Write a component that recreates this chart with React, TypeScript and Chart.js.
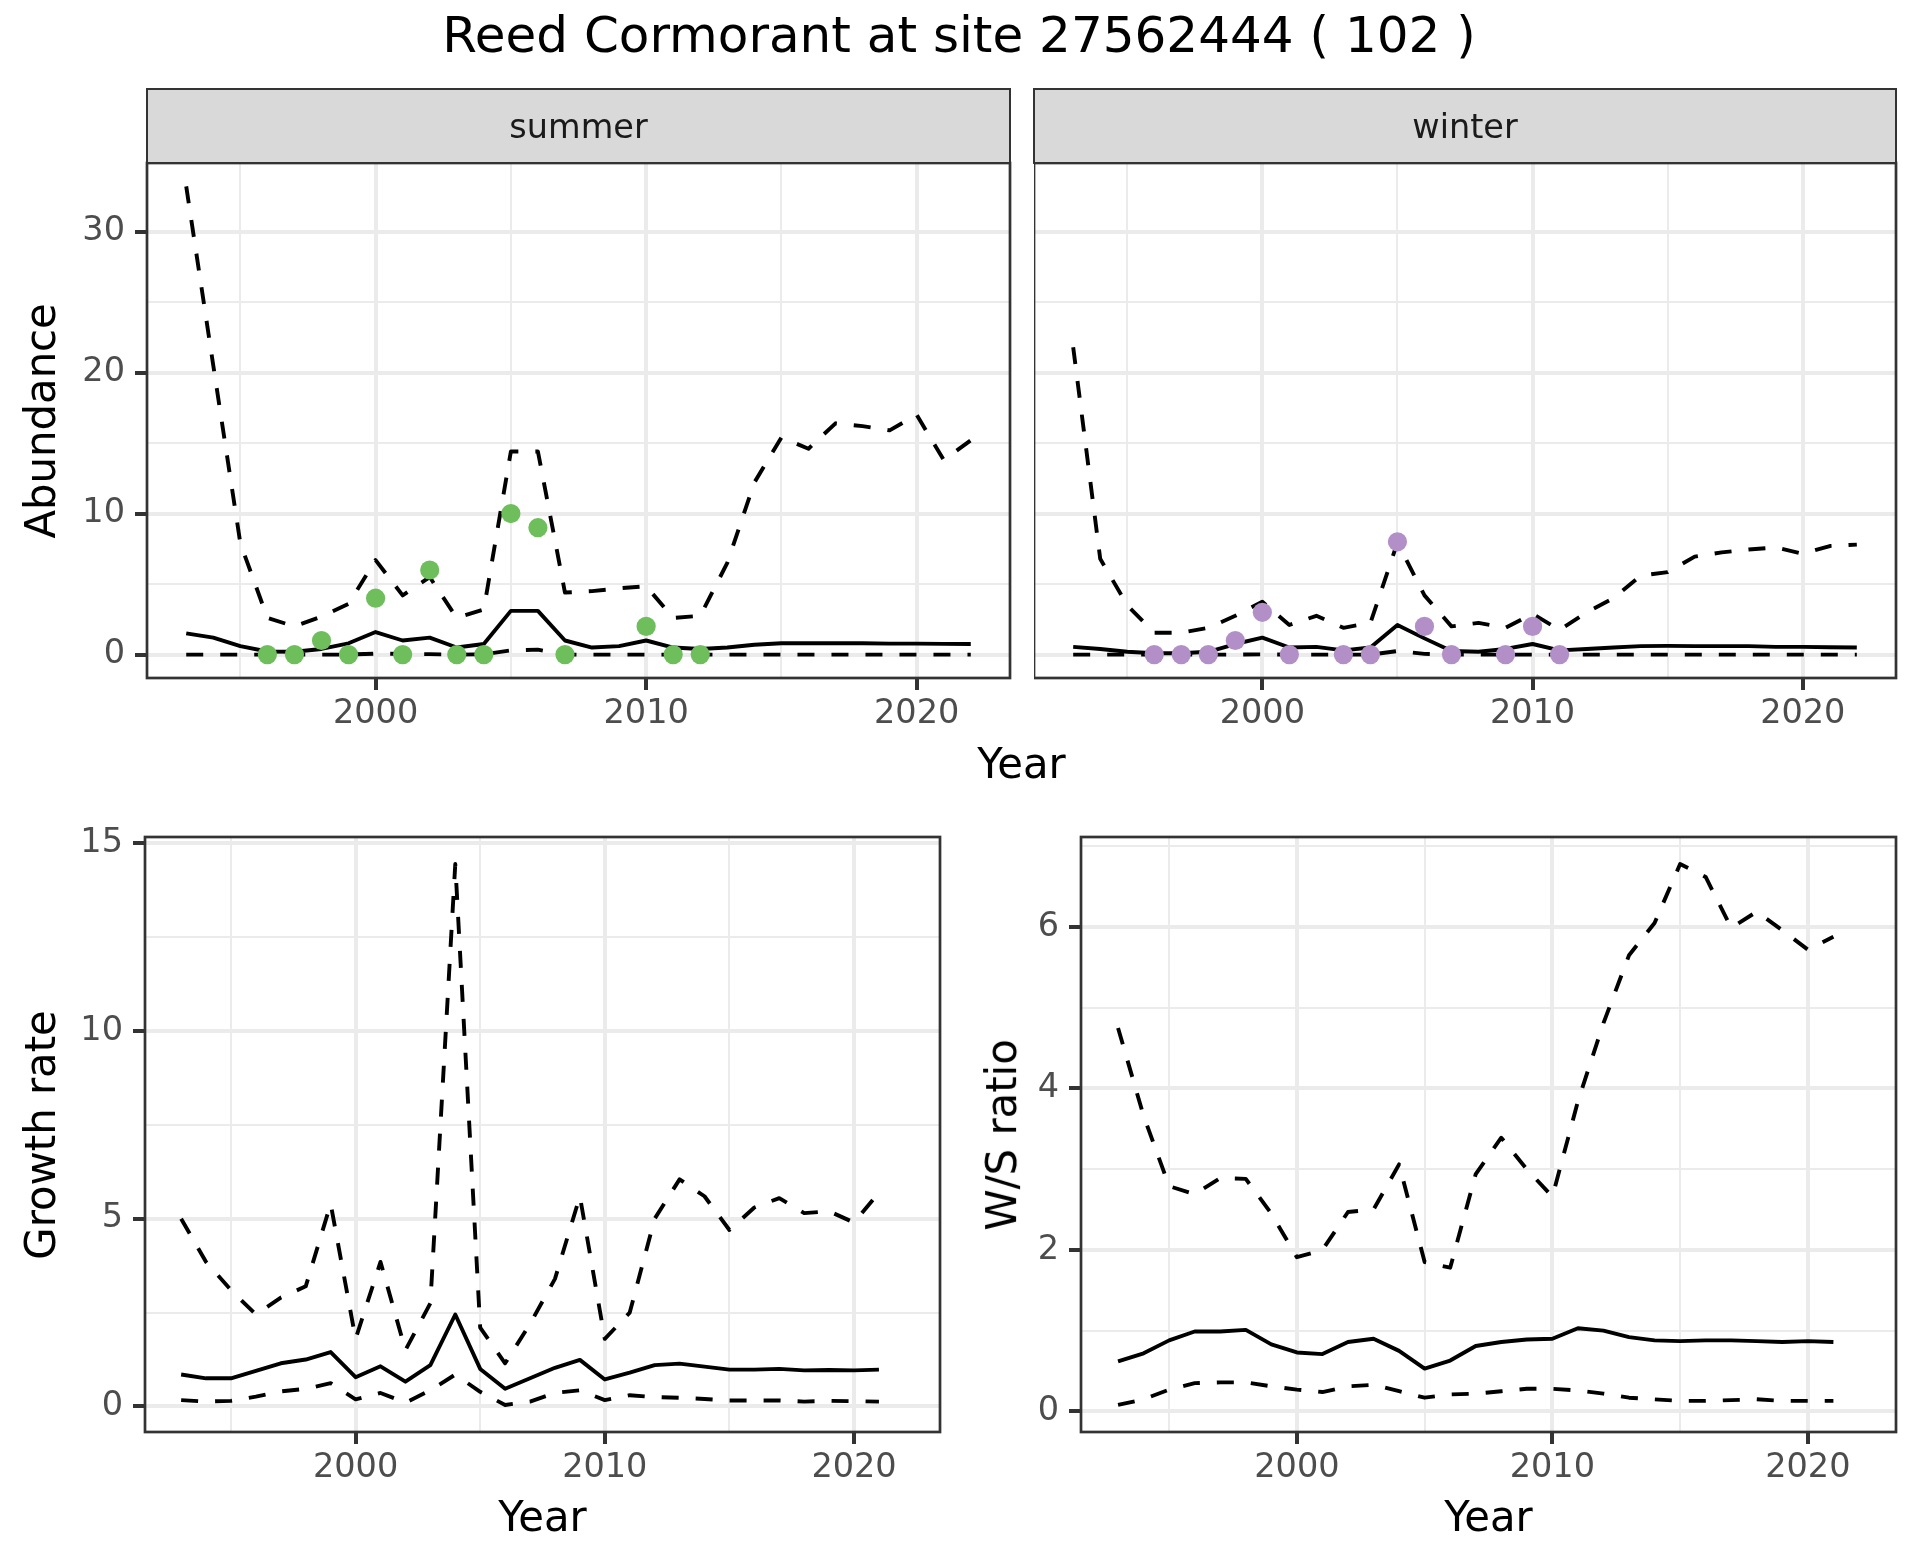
import React, { useEffect, useRef } from 'react';
import { Chart, registerables } from 'chart.js';

Chart.register(...registerables);

// ---------------- data ----------------
const YEARS = [1993, 1994, 1995, 1996, 1997, 1998, 1999, 2000, 2001, 2002, 2003, 2004, 2005, 2006, 2007, 2008, 2009, 2010, 2011, 2012, 2013, 2014, 2015, 2016, 2017, 2018, 2019, 2020, 2021, 2022];
const RATE_YEARS = [1993, 1994, 1995, 1996, 1997, 1998, 1999, 2000, 2001, 2002, 2003, 2004, 2005, 2006, 2007, 2008, 2009, 2010, 2011, 2012, 2013, 2014, 2015, 2016, 2017, 2018, 2019, 2020, 2021];
const X_TICKS = [1995, 2000, 2005, 2010, 2015, 2020];
const X_LABELS = [2000, 2010, 2020];

const SUMMER_UPPER = [33.2, 20.5, 7.9, 2.6, 2.0, 2.7, 3.6, 6.7, 4.2, 5.5, 2.6, 3.2, 14.4, 14.4, 4.4, 4.5, 4.7, 4.85, 2.6, 2.75, 6.5, 12.2, 15.4, 14.6, 16.4, 16.2, 15.9, 17.0, 13.8, 15.2];
const SUMMER_MEAN = [1.5, 1.2, 0.6, 0.22, 0.2, 0.4, 0.8, 1.6, 1.0, 1.2, 0.5, 0.75, 3.1, 3.1, 1.0, 0.5, 0.6, 1.0, 0.5, 0.4, 0.5, 0.7, 0.8, 0.8, 0.8, 0.8, 0.78, 0.78, 0.76, 0.75];
const SUMMER_LOWER = [0, 0, 0, 0, 0, 0, 0, 0.07, 0.05, 0.03, 0, 0.02, 0.3, 0.35, 0, 0, 0, 0, 0, 0, 0, 0, 0, 0, 0, 0, 0, 0, 0, 0];
const SUMMER_OBS_YEARS = [1996, 1997, 1998, 1999, 2000, 2001, 2002, 2003, 2004, 2005, 2006, 2007, 2010, 2011, 2012];
const SUMMER_OBS = [0, 0, 1, 0, 4, 0, 6, 0, 0, 10, 9, 0, 2, 0, 0];

const WINTER_UPPER = [21.8, 6.8, 3.5, 1.55, 1.55, 1.9, 2.75, 3.75, 2.1, 2.75, 1.9, 2.25, 7.95, 4.2, 2.0, 2.25, 1.9, 2.9, 1.75, 3.0, 4.0, 5.6, 5.85, 6.95, 7.25, 7.45, 7.6, 7.15, 7.7, 7.8];
const WINTER_MEAN = [0.55, 0.4, 0.2, 0.1, 0.1, 0.2, 0.75, 1.2, 0.5, 0.55, 0.3, 0.5, 2.1, 1.15, 0.25, 0.2, 0.4, 0.75, 0.3, 0.4, 0.5, 0.6, 0.62, 0.6, 0.6, 0.6, 0.55, 0.55, 0.52, 0.5];
const WINTER_LOWER = [0, 0, 0, 0, 0, 0, 0, 0.02, 0, 0, 0, 0, 0.25, 0.05, 0, 0, 0, 0, 0, 0, 0, 0, 0, 0, 0, 0, 0, 0, 0, 0];
const WINTER_OBS_YEARS = [1996, 1997, 1998, 1999, 2000, 2001, 2003, 2004, 2005, 2006, 2007, 2009, 2010, 2011];
const WINTER_OBS = [0, 0, 0, 1, 3, 0, 0, 0, 8, 2, 0, 0, 2, 0];

const GROWTH_UPPER = [5.0, 3.85, 3.1, 2.45, 2.9, 3.2, 5.4, 1.8, 3.85, 1.5, 2.75, 14.45, 2.1, 1.15, 2.2, 3.4, 5.6, 1.8, 2.5, 5.0, 6.05, 5.6, 4.7, 5.3, 5.55, 5.15, 5.2, 4.9, 5.7];
const GROWTH_MEAN = [0.85, 0.75, 0.75, 0.95, 1.15, 1.25, 1.45, 0.78, 1.07, 0.66, 1.1, 2.45, 1.0, 0.47, 0.75, 1.03, 1.24, 0.72, 0.9, 1.1, 1.14, 1.06, 0.98, 0.98, 1.0, 0.96, 0.97, 0.96, 0.98];
const GROWTH_LOWER = [0.17, 0.13, 0.15, 0.26, 0.4, 0.47, 0.62, 0.19, 0.36, 0.1, 0.43, 0.85, 0.39, 0.04, 0.13, 0.36, 0.43, 0.17, 0.3, 0.25, 0.23, 0.2, 0.16, 0.16, 0.16, 0.13, 0.15, 0.14, 0.13];

const RATIO_UPPER = [4.75, 3.66, 2.79, 2.69, 2.89, 2.88, 2.45, 1.91, 2.0, 2.47, 2.5, 3.06, 1.85, 1.78, 2.94, 3.39, 3.0, 2.66, 3.84, 4.81, 5.65, 6.05, 6.78, 6.62, 5.99, 6.19, 5.96, 5.72, 5.88];
const RATIO_MEAN = [0.62, 0.72, 0.88, 0.99, 0.99, 1.01, 0.83, 0.73, 0.71, 0.86, 0.9, 0.75, 0.53, 0.63, 0.81, 0.86, 0.89, 0.9, 1.03, 1.0, 0.92, 0.88, 0.87, 0.88, 0.88, 0.87, 0.86, 0.87, 0.86];
const RATIO_LOWER = [0.08, 0.15, 0.27, 0.35, 0.36, 0.36, 0.31, 0.27, 0.24, 0.31, 0.33, 0.25, 0.17, 0.21, 0.22, 0.25, 0.28, 0.28, 0.26, 0.22, 0.17, 0.15, 0.13, 0.13, 0.14, 0.15, 0.13, 0.13, 0.13];

const ABUND_TICKS = [0, 5, 10, 15, 20, 25, 30];
const ABUND_LABELS = [0, 10, 20, 30];
const GROWTH_TICKS = [0, 2.5, 5, 7.5, 10, 12.5, 15];
const GROWTH_LABELS = [0, 5, 10, 15];
const RATIO_TICKS = [0, 1, 2, 3, 4, 5, 6, 7];
const RATIO_LABELS = [0, 2, 4, 6];

// ---------------- styling ----------------
const FONT = "'DejaVu Sans', 'Liberation Sans', sans-serif";
const TICK_SIZE = 33.5;
const AXIS_TITLE_SIZE = 41.8;
const SUMMER_COLOR = '#6EBE5C';
const WINTER_COLOR = '#B38FC8';
const PAD_TOP = 40;
const PAD_RIGHT = 20;
const X_AXIS_H = 70;

function expandRange(arrs: number[][]): [number, number] {
  let lo = Infinity;
  let hi = -Infinity;
  for (const a of arrs) for (const v of a) { lo = Math.min(lo, v); hi = Math.max(hi, v); }
  const pad = (hi - lo) * 0.05;
  return [lo - pad, hi + pad];
}

const [X_MIN, X_MAX] = expandRange([YEARS]);

type LineSpec = { xs: number[]; ys: number[]; dashed: boolean };
type PointSpec = { xs: number[]; ys: number[]; color: string };

type PanelProps = {
  areaLeft: number;
  areaTop: number;
  areaRight: number;
  areaBottom: number;
  yAxisW: number;
  yRange: [number, number];
  yTicks: number[];
  yLabels: number[];
  showY: boolean;
  lines: LineSpec[];
  points?: PointSpec;
};

const panelBorder = {
  id: 'panelBorder',
  afterDraw(chart: any) {
    const { ctx, chartArea: a } = chart;
    ctx.save();
    ctx.strokeStyle = '#333333';
    ctx.lineWidth = 2.7;
    ctx.strokeRect(a.left, a.top, a.right - a.left, a.bottom - a.top);
    ctx.restore();
  },
};

function zeroPadding(s: any) {
  s.paddingLeft = 0;
  s.paddingRight = 0;
  s.paddingTop = 0;
  s.paddingBottom = 0;
}

function Panel(p: PanelProps) {
  const ref = useRef<HTMLCanvasElement>(null);
  const left = p.areaLeft - p.yAxisW;
  const top = p.areaTop - PAD_TOP;
  const width = p.areaRight - left + PAD_RIGHT;
  const height = p.areaBottom - top + X_AXIS_H;

  useEffect(() => {
    const datasets: any[] = [];
    if (p.points) {
      const pts = p.points;
      datasets.push({
        data: pts.xs.map((x, i) => ({ x, y: pts.ys[i] })),
        showLine: false,
        pointRadius: 9.6,
        pointBackgroundColor: pts.color,
        pointBorderColor: pts.color,
        pointBorderWidth: 0,
        borderColor: 'rgba(0,0,0,0)',
        borderWidth: 0,
        order: 0,
      });
    }
    p.lines.forEach((l) => {
      datasets.push({
        data: l.xs.map((x, i) => ({ x, y: l.ys[i] })),
        borderColor: '#000000',
        borderWidth: 3.9,
        borderDash: l.dashed ? [17, 17] : [],
        borderCapStyle: 'butt',
        borderJoinStyle: 'round',
        pointRadius: 0,
        tension: 0,
        fill: false,
        order: 1,
      });
    });

    const isMajorX = (v: number) => X_LABELS.includes(v);
    const isMajorY = (v: number) => p.yLabels.includes(v);

    const chart = new Chart(ref.current as HTMLCanvasElement, {
      type: 'line',
      data: { datasets },
      options: {
        animation: false,
        responsive: true,
        maintainAspectRatio: false,
        events: [],
        layout: { autoPadding: false, padding: { top: PAD_TOP, right: PAD_RIGHT, left: 0, bottom: 0 } },
        plugins: {
          legend: { display: false },
          tooltip: { enabled: false },
          title: { display: false },
        },
        scales: {
          x: {
            type: 'linear',
            bounds: 'data',
            min: X_MIN,
            max: X_MAX,
            afterBuildTicks: (s: any) => { s.ticks = X_TICKS.map((v) => ({ value: v })); },
            afterFit: (s: any) => { s.height = X_AXIS_H; zeroPadding(s); },
            ticks: {
              autoSkip: false,
              maxRotation: 0,
              minRotation: 0,
              padding: 4,
              color: '#4D4D4D',
              font: { family: FONT, size: TICK_SIZE },
              callback: (v: any) => (isMajorX(Number(v)) ? String(v) : ''),
            },
            grid: {
              color: '#EBEBEB',
              lineWidth: (c: any) => (c.tick && isMajorX(c.tick.value) ? 4 : 2),
              drawTicks: true,
              tickLength: 12,
              tickWidth: 4,
              tickColor: (c: any) => (c.tick && isMajorX(c.tick.value) ? '#333333' : 'rgba(0,0,0,0)'),
            },
            border: { display: false },
          },
          y: {
            type: 'linear',
            bounds: 'data',
            min: p.yRange[0],
            max: p.yRange[1],
            afterBuildTicks: (s: any) => { s.ticks = p.yTicks.map((v) => ({ value: v })); },
            afterFit: (s: any) => { s.width = p.yAxisW; zeroPadding(s); },
            ticks: {
              display: p.showY,
              autoSkip: false,
              padding: 10,
              color: '#4D4D4D',
              font: { family: FONT, size: TICK_SIZE },
              callback: (v: any) => (isMajorY(Number(v)) ? String(v) : ''),
            },
            grid: {
              color: '#EBEBEB',
              lineWidth: (c: any) => (c.tick && isMajorY(c.tick.value) ? 4 : 2),
              drawTicks: p.showY,
              tickLength: 12,
              tickWidth: 4,
              tickColor: (c: any) => (c.tick && isMajorY(c.tick.value) ? '#333333' : 'rgba(0,0,0,0)'),
            },
            border: { display: false },
          },
        },
      } as any,
      plugins: [panelBorder],
    });
    return () => chart.destroy();
  }, []);

  return (
    <div style={{ position: 'absolute', left, top, width, height }}>
      <canvas ref={ref} />
    </div>
  );
}

function HLabel(props: { text: string; cx: number; baseline: number; size: number; color?: string }) {
  const { text, cx, baseline, size, color } = props;
  return (
    <div
      style={{
        position: 'absolute',
        left: cx - 800,
        width: 1600,
        top: baseline - 0.846 * size,
        fontSize: size,
        lineHeight: `${size}px`,
        fontFamily: FONT,
        textAlign: 'center',
        color: color || '#000000',
        whiteSpace: 'nowrap',
      }}
    >
      {text}
    </div>
  );
}

function VLabel(props: { text: string; baselineX: number; cy: number; size: number }) {
  const { text, baselineX, cy, size } = props;
  const cx = baselineX - 0.346 * size;
  return (
    <div
      style={{
        position: 'absolute',
        left: cx - 400,
        top: cy - size / 2,
        width: 800,
        height: size,
        fontSize: size,
        lineHeight: `${size}px`,
        fontFamily: FONT,
        textAlign: 'center',
        color: '#000000',
        whiteSpace: 'nowrap',
        transform: 'rotate(-90deg)',
        transformOrigin: '50% 50%',
      }}
    >
      {text}
    </div>
  );
}

function Strip(props: { left: number; right: number; top: number; bottom: number }) {
  const { left, right, top, bottom } = props;
  return (
    <div
      style={{
        position: 'absolute',
        left: left - 1.35,
        top: top - 1.35,
        width: right - left + 2.7,
        height: bottom - top + 2.7,
        boxSizing: 'border-box',
        border: '2.7px solid #333333',
        background: '#D9D9D9',
      }}
    />
  );
}

// ---------------- layout ----------------
const TOP_Y0 = 163;
const TOP_Y1 = 678;
const STRIP_TOP = 89;
const SUMMER_X = [147, 1010];
const WINTER_X = [1034, 1896];
const BOT_Y0 = 837;
const BOT_Y1 = 1432;
const BL_X = [145, 940];
const BR_X = [1081, 1896];

export default function App() {
  const topRange = expandRange([SUMMER_UPPER, SUMMER_MEAN, SUMMER_LOWER, SUMMER_OBS, WINTER_UPPER, WINTER_MEAN, WINTER_LOWER, WINTER_OBS]);
  const growthRange = expandRange([GROWTH_UPPER, GROWTH_MEAN, GROWTH_LOWER]);
  const ratioRange = expandRange([RATIO_UPPER, RATIO_MEAN, RATIO_LOWER]);

  return (
    <div style={{ position: 'absolute', left: 0, top: 0, width: 1920, height: 1560, background: '#FFFFFF', overflow: 'hidden' }}>
      <Panel
        areaLeft={SUMMER_X[0]} areaRight={SUMMER_X[1]} areaTop={TOP_Y0} areaBottom={TOP_Y1}
        yAxisW={SUMMER_X[0]} yRange={topRange} yTicks={ABUND_TICKS} yLabels={ABUND_LABELS} showY={true}
        lines={[
          { xs: YEARS, ys: SUMMER_UPPER, dashed: true },
          { xs: YEARS, ys: SUMMER_LOWER, dashed: true },
          { xs: YEARS, ys: SUMMER_MEAN, dashed: false },
        ]}
        points={{ xs: SUMMER_OBS_YEARS, ys: SUMMER_OBS, color: SUMMER_COLOR }}
      />
      <Panel
        areaLeft={WINTER_X[0]} areaRight={WINTER_X[1]} areaTop={TOP_Y0} areaBottom={TOP_Y1}
        yAxisW={0} yRange={topRange} yTicks={ABUND_TICKS} yLabels={ABUND_LABELS} showY={false}
        lines={[
          { xs: YEARS, ys: WINTER_UPPER, dashed: true },
          { xs: YEARS, ys: WINTER_LOWER, dashed: true },
          { xs: YEARS, ys: WINTER_MEAN, dashed: false },
        ]}
        points={{ xs: WINTER_OBS_YEARS, ys: WINTER_OBS, color: WINTER_COLOR }}
      />
      <Panel
        areaLeft={BL_X[0]} areaRight={BL_X[1]} areaTop={BOT_Y0} areaBottom={BOT_Y1}
        yAxisW={BL_X[0]} yRange={growthRange} yTicks={GROWTH_TICKS} yLabels={GROWTH_LABELS} showY={true}
        lines={[
          { xs: RATE_YEARS, ys: GROWTH_UPPER, dashed: true },
          { xs: RATE_YEARS, ys: GROWTH_LOWER, dashed: true },
          { xs: RATE_YEARS, ys: GROWTH_MEAN, dashed: false },
        ]}
      />
      <Panel
        areaLeft={BR_X[0]} areaRight={BR_X[1]} areaTop={BOT_Y0} areaBottom={BOT_Y1}
        yAxisW={120} yRange={ratioRange} yTicks={RATIO_TICKS} yLabels={RATIO_LABELS} showY={true}
        lines={[
          { xs: RATE_YEARS, ys: RATIO_UPPER, dashed: true },
          { xs: RATE_YEARS, ys: RATIO_LOWER, dashed: true },
          { xs: RATE_YEARS, ys: RATIO_MEAN, dashed: false },
        ]}
      />

      <Strip left={SUMMER_X[0]} right={SUMMER_X[1]} top={STRIP_TOP} bottom={TOP_Y0} />
      <Strip left={WINTER_X[0]} right={WINTER_X[1]} top={STRIP_TOP} bottom={TOP_Y0} />
      <HLabel text="summer" cx={(SUMMER_X[0] + SUMMER_X[1]) / 2} baseline={138.5} size={TICK_SIZE} color="#1A1A1A" />
      <HLabel text="winter" cx={(WINTER_X[0] + WINTER_X[1]) / 2} baseline={138.5} size={TICK_SIZE} color="#1A1A1A" />

      <HLabel text="Reed Cormorant at site 27562444 ( 102 )" cx={959} baseline={52} size={50} />
      <HLabel text="Year" cx={(SUMMER_X[0] + WINTER_X[1]) / 2} baseline={778} size={AXIS_TITLE_SIZE} />
      <HLabel text="Year" cx={(BL_X[0] + BL_X[1]) / 2} baseline={1531} size={AXIS_TITLE_SIZE} />
      <HLabel text="Year" cx={(BR_X[0] + BR_X[1]) / 2} baseline={1531} size={AXIS_TITLE_SIZE} />
      <VLabel text="Abundance" baselineX={55.5} cy={(TOP_Y0 + TOP_Y1) / 2} size={AXIS_TITLE_SIZE} />
      <VLabel text="Growth rate" baselineX={55.5} cy={(BOT_Y0 + BOT_Y1) / 2} size={AXIS_TITLE_SIZE} />
      <VLabel text="W/S ratio" baselineX={1016} cy={(BOT_Y0 + BOT_Y1) / 2} size={AXIS_TITLE_SIZE} />
    </div>
  );
}
